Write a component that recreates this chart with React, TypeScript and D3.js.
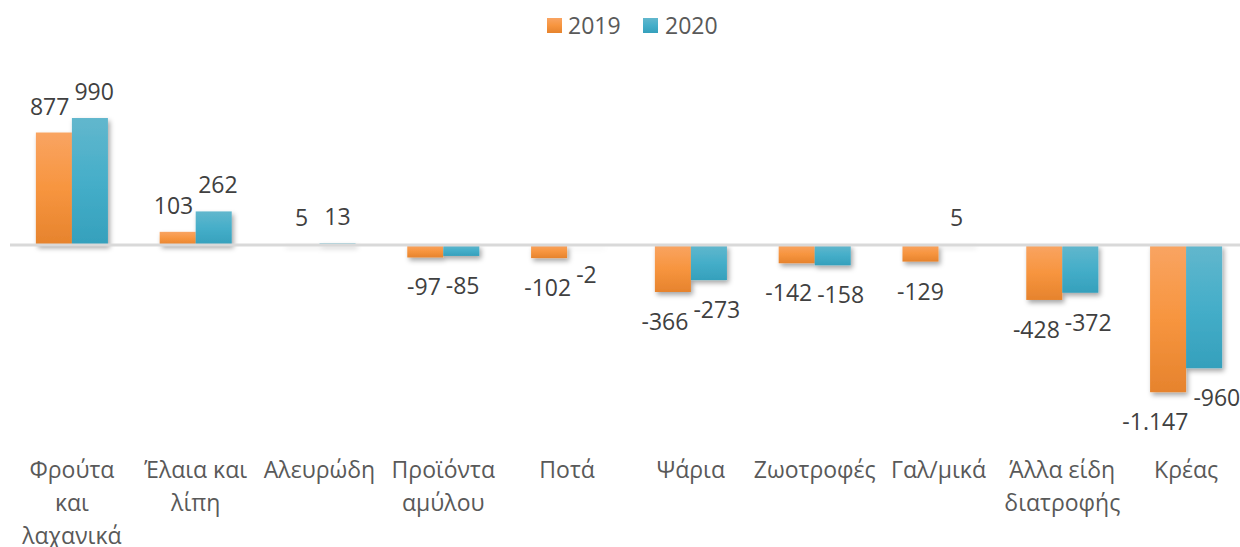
import React from "react";
import * as d3 from "d3";

const categories = [
  "Φρούτα\nκαι\nλαχανικά",
  "Έλαια και\nλίπη",
  "Αλευρώδη",
  "Προϊόντα\nαμύλου",
  "Ποτά",
  "Ψάρια",
  "Ζωοτροφές",
  "Γαλ/μικά",
  "Άλλα είδη\nδιατροφής",
  "Κρέας",
];
const seriesNames = ["2019", "2020"];
const values2019 = [877, 103, 5, -97, -102, -366, -142, -129, -428, -1147];
const values2020 = [990, 262, 13, -85, -2, -273, -158, 5, -372, -960];
const seriesValues = [values2019, values2020];

const width = 1240;
const height = 547;
const font = "'Open Sans', 'Noto Sans', sans-serif";
const fontSize = 23;
const colors = [
  { top: "#F9A462", mid: "#F7953F", bottom: "#E6832D" },
  { top: "#62B7CD", mid: "#45AEC9", bottom: "#35A0BC" },
];

// greek style: dot for thousands, plain hyphen for minus
const fmt = (v: number) =>
  d3.format(",")(v).replace(/,/g, ".").replace("\u2212", "-");

let ctx: CanvasRenderingContext2D | null = null;
const textWidth = (s: string) => {
  if (!ctx) ctx = document.createElement("canvas").getContext("2d");
  if (!ctx) return s.length * 12;
  ctx.font = `${fontSize}px ${font}`;
  return ctx.measureText(s).width;
};

export default function App() {
  const x = d3
    .scaleBand<string>()
    .domain(categories)
    .range([10, 1248])
    .paddingInner(0.418)
    .paddingOuter(0.209);

  const xs = d3
    .scaleBand<string>()
    .domain(seriesNames)
    .range([0, x.bandwidth()]);

  const y = d3.scaleLinear().domain([-1200, 1100]).range([399, 103.9]);

  // value labels, pushed apart a bit when the pair would collide (like Excel does)
  const labels = categories.map((c, i) => {
    const items = seriesValues.map((vals, si) => {
      const v = vals[i];
      const text = fmt(v);
      return {
        key: `${si}-${i}`,
        text,
        w: textWidth(text),
        cx: (x(c) ?? 0) + (xs(seriesNames[si]) ?? 0) + xs.bandwidth() / 2,
        cy: v >= 0 ? y(v) - 27 : y(v) + 29,
      };
    });
    const [a, b] = items;
    if (Math.abs(a.cy - b.cy) < 25) {
      const need = (a.w + b.w) / 2 + 5 - (b.cx - a.cx);
      if (need > 0) {
        a.cx -= need / 2;
        b.cx += need / 2;
      }
    }
    return items;
  });

  return (
    <svg
      width={width}
      height={height}
      style={{ display: "block", position: "absolute", left: 0, top: 0 }}
    >
      <defs>
        {colors.map((c, i) => (
          <linearGradient key={i} id={`grad${i}`} x1="0" y1="0" x2="0" y2="1">
            <stop offset="0%" stopColor={c.top} />
            <stop offset="50%" stopColor={c.mid} />
            <stop offset="100%" stopColor={c.bottom} />
          </linearGradient>
        ))}
        <filter id="shadow" x="-20%" y="-20%" width="140%" height="140%">
          <feDropShadow dx="2" dy="3" stdDeviation="2.5" floodColor="#000" floodOpacity="0.35" />
        </filter>
      </defs>
      <rect width={width} height={height} fill="#fff" />

      {/* legend */}
      <g fontFamily={font} fontSize={fontSize} fill="#595959">
        <rect x={547} y={18} width={15} height={15} fill="url(#grad0)" />
        <text x={568} y={25} dominantBaseline="central">
          2019
        </text>
        <rect x={643} y={18} width={15} height={15} fill="url(#grad1)" />
        <text x={665} y={25} dominantBaseline="central">
          2020
        </text>
      </g>

      {/* bars */}
      <g filter="url(#shadow)">
        {seriesValues.map((vals, si) =>
          vals.map((v, i) => (
            <rect
              key={`${si}-${i}`}
              x={(x(categories[i]) ?? 0) + (xs(seriesNames[si]) ?? 0)}
              y={Math.min(y(v), y(0))}
              width={xs.bandwidth()}
              height={Math.abs(y(v) - y(0))}
              fill={`url(#grad${si})`}
            />
          ))
        )}
      </g>

      {/* zero axis */}
      <line x1={10} x2={1248} y1={y(0)} y2={y(0)} stroke="#D9D9D9" strokeWidth={3} />

      {/* value labels */}
      <g fontFamily={font} fontSize={fontSize} fill="#404040" textAnchor="middle">
        {labels.flat().map((l) => (
          <text key={l.key} x={l.cx} y={l.cy} dominantBaseline="central">
            {l.text}
          </text>
        ))}
      </g>

      {/* category labels */}
      <g fontFamily={font} fontSize={fontSize} fill="#595959" textAnchor="middle">
        {categories.map((c) => (
          <text key={c} x={(x(c) ?? 0) + x.bandwidth() / 2} y={469}>
            {c.split("\n").map((line, li) => (
              <tspan
                key={li}
                x={(x(c) ?? 0) + x.bandwidth() / 2}
                dy={li === 0 ? 0 : 33}
                dominantBaseline="central"
              >
                {line}
              </tspan>
            ))}
          </text>
        ))}
      </g>
    </svg>
  );
}
